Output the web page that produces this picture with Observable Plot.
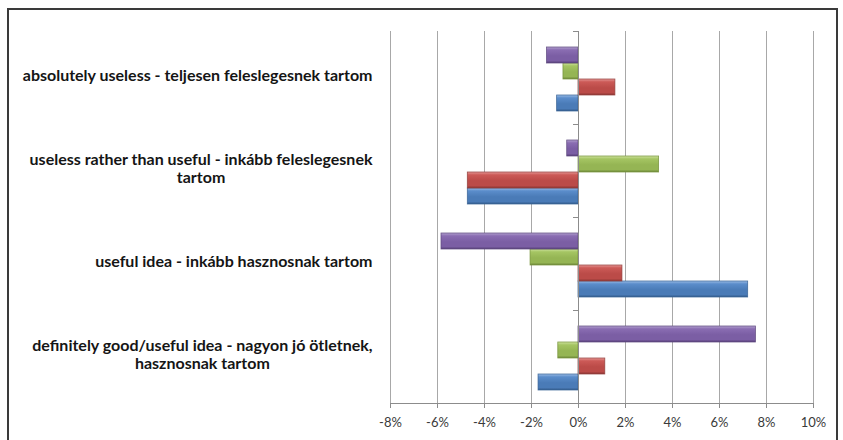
<!DOCTYPE html>
<html>
<head>
<meta charset="utf-8">
<script src="https://cdn.jsdelivr.net/npm/d3@7"></script>
<script src="https://cdn.jsdelivr.net/npm/@observablehq/plot@0.6"></script>
<style>
  html, body { margin: 0; padding: 0; background: #fff; overflow: hidden; }
  #chart { width: 843px; height: 440px; }
</style>
</head>
<body>
<div id="chart"></div>
<script>
// Categories, top to bottom as displayed
const categories = [
  "absolutely useless - teljesen feleslegesnek tartom",
  "useless rather than useful - inkább feleslegesnek tartom",
  "useful idea - inkább hasznosnak tartom",
  "definitely good/useful idea - nagyon jó ötletnek, hasznosnak tartom"
];
// Wrapped labels as shown in the chart
const categoryLabels = [
  "absolutely useless - teljesen feleslegesnek tartom",
  "useless rather than useful - inkább feleslegesnek\ntartom",
  "useful idea - inkább hasznosnak tartom",
  "definitely good/useful idea - nagyon jó ötletnek,\nhasznosnak tartom"
];
// Series (bottom bar to top bar within each category)
const seriesNames = ["Series 1", "Series 2", "Series 3", "Series 4"];
// Values in percent, in the order of `categories`
const series1 = [-0.91, -4.71, 7.22, -1.70];  // blue
const series2 = [1.57, -4.71, 1.87, 1.14];    // red
const series3 = [-0.64, 3.43, -2.04, -0.86];  // green
const series4 = [-1.34, -0.48, -5.83, 7.55];  // purple
const xTicks = [-8, -6, -4, -2, 0, 2, 4, 6, 8, 10];

const seriesValues = [series1, series2, series3, series4];
const seriesGrad = ["gBlue", "gRed", "gGreen", "gPurple"];
const seriesStroke = ["#3a6496", "#94403d", "#77933c", "#5f4a7f"];

const table = [];
seriesNames.forEach((s, i) => {
  categories.forEach((c, j) => table.push({series: s, category: c, value: seriesValues[i][j]}));
});
const labelTable = categories.map((c, j) => ({category: c, label: categoryLabels[j]}));

const barMarks = seriesNames.map((s, i) =>
  Plot.barX(table, {
    filter: d => d.series === s,
    x: "value", y: "series", fy: "category",
    fill: `url(#${seriesGrad[i]})`,
    stroke: seriesStroke[i], strokeWidth: 0.8, strokeOpacity: 0.9
  })
);

const chart = Plot.plot({
  width: 843, height: 440,
  marginLeft: 390, marginRight: 30, marginTop: 31, marginBottom: 37,
  style: {fontFamily: "Lato, 'Open Sans', sans-serif", background: "transparent", overflow: "visible"},
  x: {domain: [-8, 10], label: null},
  fy: {domain: categories, padding: 0, label: null, axis: null},
  y: {domain: seriesNames.slice().reverse(), paddingInner: 0, paddingOuter: 0.78, align: 0.55, axis: null},
  marks: [
    Plot.gridX(xTicks, {stroke: "#a8a8a8", strokeOpacity: 1, strokeWidth: 1}),
    ...barMarks,
    Plot.ruleX([0], {stroke: "#8c8c8c", strokeWidth: 1}),
    Plot.axisX(xTicks, {tickSize: 5, tickPadding: 9, tickFormat: d => d + "%", stroke: "#8c8c8c", fill: "#3a3a3a", fontSize: 13}),
    Plot.text(labelTable, {
      fy: "category", text: "label", frameAnchor: "left", dx: -18, dy: -3,
      textAnchor: "end", lineAnchor: "middle", lineHeight: 1.15,
      fontWeight: "bold", fontSize: 16, fill: "#151515"
    })
  ]
});
document.getElementById("chart").appendChild(chart);

const svg = d3.select(chart);
// gradients for the bevelled bars
const defs = svg.insert("defs", ":first-child");
const grads = {
  gBlue:   ["#9dbde6", "#5b8dcb", "#4a7bb7", "#335a8a"],
  gRed:    ["#e59896", "#cc5a57", "#bb4b48", "#8a3533"],
  gGreen:  ["#cfe3a0", "#a5c563", "#95b554", "#6c863a"],
  gPurple: ["#b3a2cf", "#8a6db2", "#7b5ea4", "#574078"]
};
Object.entries(grads).forEach(([id, c]) => {
  const g = defs.append("linearGradient").attr("id", id).attr("x1", 0).attr("y1", 0).attr("x2", 0).attr("y2", 1);
  [[0, c[0]], [0.18, c[1]], [0.55, c[2]], [0.85, c[2]], [1, c[3]]].forEach(([o, col]) =>
    g.append("stop").attr("offset", o).attr("stop-color", col));
});

// axis lines from the scales
const xs = chart.scale("x"), fys = chart.scale("fy");
const x0 = xs.apply(0);
const bottom = fys.apply(categories[categories.length - 1]) + fys.bandwidth;
svg.append("line").attr("x1", xs.apply(-8)).attr("x2", xs.apply(10))
  .attr("y1", bottom + 0.5).attr("y2", bottom + 0.5).attr("stroke", "#8c8c8c");
const bounds = categories.map(c => fys.apply(c)).concat([bottom]);
bounds.forEach(b => svg.append("line").attr("x1", x0 - 5).attr("x2", x0)
  .attr("y1", b + 0.5).attr("y2", b + 0.5).attr("stroke", "#8c8c8c"));

// center the second line of wrapped labels under the first
svg.selectAll("text").each(function() {
  const tspans = this.querySelectorAll("tspan");
  if (tspans.length > 1) {
    let w = 0;
    tspans.forEach(t => { w = Math.max(w, t.getComputedTextLength()); });
    this.setAttribute("text-anchor", "middle");
    tspans.forEach(t => t.setAttribute("x", -w / 2));
  }
});

// outer frame (its bottom edge lies below the picture, as in the original)
svg.append("rect").attr("x", 8).attr("y", 9).attr("width", 829).attr("height", 445)
  .attr("fill", "none").attr("stroke", "#3a3a3a").attr("stroke-width", 2);
</script>
</body>
</html>
